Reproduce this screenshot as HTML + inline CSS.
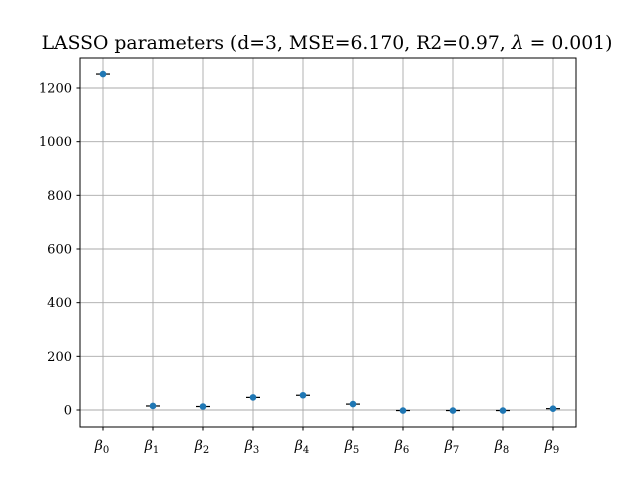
<!DOCTYPE html>
<html><head><meta charset="utf-8"><style>
body{margin:0;background:#fff}
svg text{font-family:"DejaVu Serif","Liberation Serif",serif;fill:#000}
</style></head><body>
<svg width="640" height="480" xmlns="http://www.w3.org/2000/svg">
<rect width="640" height="480" fill="#fff"/>
<g id="grid"></g>
<g id="yticks"></g>
<g id="xticks"></g>
<g id="marks"></g>
<rect x="80" y="58" width="496" height="369" fill="none" stroke="#000" stroke-width="1"/>
<text x="327" y="49" text-anchor="middle" font-size="18.8">LASSO parameters (d=3, MSE=6.170, R2=0.97, <tspan font-style="italic">λ</tspan> = 0.001)</text>
</svg>
<script>
const categories=["0","1","2","3","4","5","6","7","8","9"];
const values=[1252,15,13,47,55,22,-2,-2,-2,5];
const errors=[0,0,0,0,0,0,0,0,0,0];
const yTicks=[0,200,400,600,800,1000,1200];
const NS="http://www.w3.org/2000/svg";
function xs(i){return 103+i*50;}
function ys(v){return 410-v*(322/1200);}
function mk(t,a,p){const e=document.createElementNS(NS,t);for(const k in a)e.setAttribute(k,a[k]);p.appendChild(e);return e;}
const grid=document.getElementById('grid'),yt=document.getElementById('yticks'),xt=document.getElementById('xticks'),marks=document.getElementById('marks');
yTicks.forEach(v=>{const y=ys(v);
 const g=mk('line',{x1:80,x2:576,y1:y,y2:y,stroke:'#a8a8a8','stroke-width':0.9},grid);
 
 
 mk('line',{x1:76.5,x2:80,y1:y,y2:y,stroke:'#000'},yt);
 const t=mk('text',{x:72,y:y+4.5,'text-anchor':'end','font-size':13},yt);t.textContent=v;
 
 
});
categories.forEach((c,i)=>{const x=xs(i);
 const g=mk('line',{x1:x,x2:x,y1:58,y2:427,stroke:'#a8a8a8','stroke-width':0.9},grid);
 
 
 mk('line',{x1:x,x2:x,y1:427,y2:430.5,stroke:'#000'},xt);
 const t=mk('text',{x:x-1,y:450,'text-anchor':'middle','font-size':14},xt);
 t.innerHTML='<tspan font-style="italic">β</tspan><tspan font-size="10" dy="3">'+c+'</tspan>';
 
 
});
values.forEach((v,i)=>{const x=xs(i),y=ys(v),e=errors[i]*(322/1200);
 const l=mk('line',{x1:x-7,x2:x+7,y1:y,y2:y,stroke:'#000','stroke-width':1.2},marks);
 
 
 if(e>0){mk('line',{x1:x,x2:x,y1:y-e,y2:y+e,stroke:'#000'},marks);}
 const p=mk('circle',{cx:x,cy:y,r:3.3,fill:'#1f77b4'},marks);
 
 
});
</script>
</body></html>
